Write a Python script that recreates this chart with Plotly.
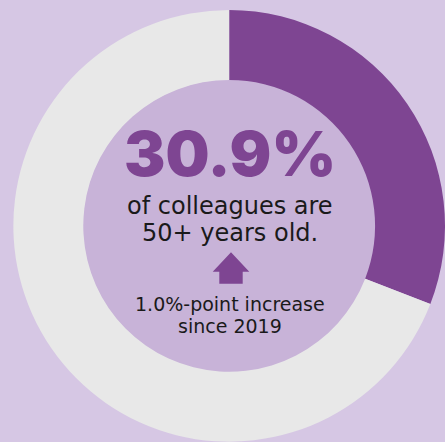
import plotly.graph_objects as go

labels = ["50+ years", "Under 50"]
values = [30.9, 69.1]
colors = ["#7e4592", "#e8e8e8"]

headline = "30.9%"
line1 = "of colleagues are"
line2 = "50+ years old."
sub1 = "1.0%-point increase"
sub2 = "since 2019"

W, H = 445, 442
BG = "#d6c7e4"
INNER = "#c8b3d8"
PURPLE = "#7e4592"
TXT = "#1a1a1a"

fig = go.Figure()
fig.add_trace(go.Pie(
    labels=labels, values=values, marker=dict(colors=colors, line=dict(width=0)),
    hole=0.676, sort=False, direction="clockwise", rotation=0,
    textinfo="none", hoverinfo="label+value", showlegend=False,
    domain=dict(x=[0.03, 1.0], y=[0.0, 0.978]),
))

# inner disc
cx, cy, r = 229.3 / W, (H - 226.0) / H, 146.5
fig.add_shape(type="circle", xref="paper", yref="paper",
              x0=cx - r / W, x1=cx + r / W, y0=cy - r / H, y1=cy + r / H,
              fillcolor=INNER, line=dict(width=0), layer="below")

# up arrow
def px(x, y):
    return f"{x / W:.5f},{(H - y) / H:.5f}"
path = ("M " + px(231, 252.3) + " L " + px(249.3, 271.7) + " L " + px(242.7, 271.7) +
        " L " + px(242.7, 283.7) + " L " + px(219.3, 283.7) + " L " + px(219.3, 271.7) +
        " L " + px(212.7, 271.7) + " Z")
fig.add_shape(type="path", xref="paper", yref="paper", path=path,
              fillcolor=PURPLE, line=dict(width=0))

def ann(text, y, size, color, weight="normal", family="DejaVu Sans"):
    fig.add_annotation(text=text, x=229.5 / W, y=(H - y) / H, xref="paper", yref="paper",
                       showarrow=False, xanchor="center", yanchor="middle",
                       font=dict(size=size, color=color, family=family, weight=weight))

ann(headline, 153.0, 62, PURPLE, weight=900, family="Inter")
ann(line1, 205.5, 24, TXT)
ann(line2, 233.0, 24, TXT)
ann(sub1, 304.1, 19, TXT)
ann(sub2, 326.3, 19, TXT)

fig.update_layout(width=W, height=H, margin=dict(l=0, r=0, t=0, b=0),
                  paper_bgcolor=BG, plot_bgcolor=BG)
fig.write_html("out.html", config={"displayModeBar": False},
               post_script="document.body.style.margin='0';document.body.style.background='" + BG + "';")
